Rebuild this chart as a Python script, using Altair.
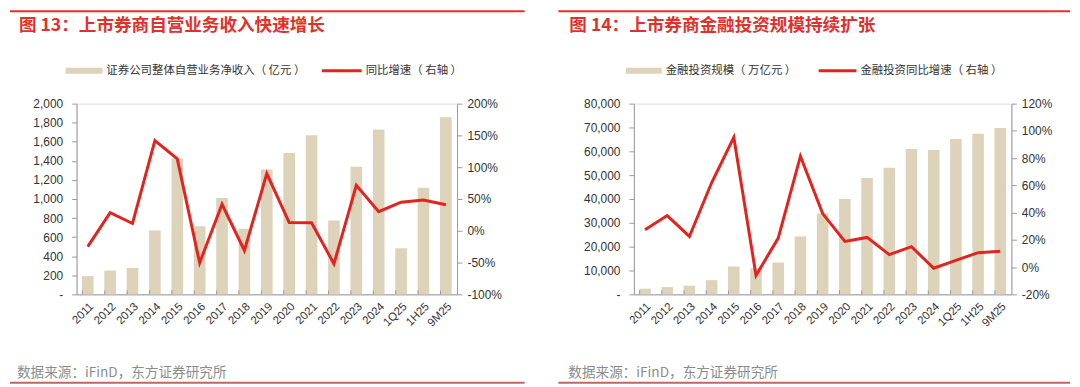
import altair as alt
import pandas as pd

cats = ["2011", "2012", "2013", "2014", "2015", "2016", "2017", "2018", "2019",
        "2020", "2021", "2022", "2023", "2024", "1Q25", "1H25", "9M25"]

# Left chart: 证券公司整体自营业务净收入（亿元） and 同比增速（%）
prop_income = [191, 250, 278, 670, 1424, 715, 1010, 688, 1309, 1483, 1667, 774,
               1337, 1729, 483, 1118, 1858]
prop_growth = [-25, 28.6, 11.5, 141.7, 113, -50.5, 41.7, -31, 90, 13, 12.5, -52,
               71.4, 30, 45, 48.5, 41]

# Right chart: 金融投资规模（万亿元） and 同比增速（%）
inv_scale = [2361, 3056, 3611, 5972, 11667, 10972, 13333, 24306, 33889, 40000,
             48750, 53056, 60972, 60556, 65139, 67361, 69722]
inv_growth = [27.4, 37.8, 22.5, 61.9, 95.2, -6.1, 21.3, 81.4, 39.3, 18.9, 21.8,
              9.2, 15, -0.8, 5, 10.6, 11.6]

BEIGE = "#DCD3BA"
RED = "#E2231E"
TITLE_RED = "#E3302B"
AXIS_GRAY = "#9A9A9A"
LABEL = "#333333"
NUM_FONT = "Liberation Sans"
CJK_FONT = "Noto Sans CJK SC"
H = 192


def one():
    return alt.Data(values=[{"a": 1}])


def hrule(x1, x2, y, color, sw):
    return alt.Chart(one()).mark_rule(color=color, strokeWidth=sw).encode(
        x=alt.value(x1), x2=alt.value(x2), y=alt.value(y))


def label(x, y, text, size, color, weight="normal", font=CJK_FONT):
    return alt.Chart(one()).mark_text(
        align="left", baseline="middle", font=font, fontSize=size,
        color=color, fontWeight=weight).encode(
        x=alt.value(x), y=alt.value(y), text=alt.value(text))


def panel(width, bars, growth, ydom, ystep, rdom, rstep, title, leg1, leg2, d):
    df = pd.DataFrame({"cat": cats, "bar": bars, "growth": growth})
    step = width / len(cats)
    xaxis = alt.Axis(title=None, labelAngle=-45, labelAlign="right",
                     labelBaseline="top", ticks=False, labelPadding=6,
                     labelFont=NUM_FONT, labelFontSize=11.5, labelColor=LABEL,
                     domainColor=AXIS_GRAY, domainWidth=1)
    xscale = alt.Scale(paddingInner=0.48, paddingOuter=0.24)
    x = alt.X("cat:N", sort=cats, axis=xaxis, scale=xscale)

    base = alt.Chart(df)
    bar_layer = base.mark_bar(color=BEIGE).encode(
        x=x,
        y=alt.Y("bar:Q", scale=alt.Scale(domain=ydom, nice=False),
                axis=alt.Axis(title=None, values=list(range(ydom[0], ydom[1] + 1, ystep)),
                              labelExpr="datum.value == 0 ? '-' : format(datum.value, ',')",
                              grid=False, tickSize=5, labelPadding=9,
                              tickColor=AXIS_GRAY, domainColor=AXIS_GRAY,
                              labelFont=NUM_FONT, labelFontSize=12, labelColor=LABEL)),
    )
    line_layer = base.mark_line(color=RED, strokeWidth=3).encode(
        x=x,
        y=alt.Y("growth:Q", scale=alt.Scale(domain=rdom, nice=False),
                axis=alt.Axis(title=None, orient="right",
                              values=list(range(rdom[0], rdom[1] + 1, rstep)),
                              labelExpr="datum.value + '%'",
                              grid=False, tickSize=5, labelPadding=5,
                              tickColor=AXIS_GRAY, domainColor=AXIS_GRAY,
                              labelFont=NUM_FONT, labelFontSize=12, labelColor=LABEL)),
    )
    ticks = base.mark_rule(color=AXIS_GRAY, strokeWidth=1, xOffset=-0.24 * step).encode(
        x=x, y=alt.value(H - 4), y2=alt.value(H))

    decor = [
        hrule(d["rule_x1"], d["rule_x2"], -93, TITLE_RED, 2),
        label(d["title_x"], -78, title, 17.7, TITLE_RED, "bold"),
        hrule(d["b1"], d["b2"], -33, BEIGE, 6),
        label(d["b2"] + 4, -33, leg1, 11.5, LABEL),
        hrule(d["r1"], d["r2"], -33, RED, 3),
        label(d["r2"] + 4, -33, leg2, 11.5, LABEL),
        label(d["src_x"], 271, "数据来源：iFinD，东方证券研究所", 13.7, "#8C8C8C"),
        hrule(d["rule_x1"], d["rule_x2"], 281, "#C0675C", 2),
    ]
    return alt.layer(bar_layer, line_layer, ticks, *decor).resolve_scale(
        y="independent").properties(width=width, height=H)


left = panel(383, prop_income, prop_growth, [0, 2000], 200, [-100, 200], 50,
             "图 13：上市券商自营业务收入快速增长",
             "证券公司整体自营业务净收入（ 亿元 ）", "同比增速（ 右轴 ）",
             dict(rule_x1=-67, rule_x2=451, title_x=-58, b1=-11, b2=26,
                  r1=247, r2=287, src_x=-60))

right = panel(380, inv_scale, inv_growth, [0, 80000], 10000, [-20, 120], 20,
              "图 14：上市券商金融投资规模持续扩张",
              "金融投资规模（ 万亿元 ）", "金融投资同比增速（ 右轴 ）",
              dict(rule_x1=-76, rule_x2=439, title_x=-65, b1=-8, b2=28,
                   r1=186, r2=224, src_x=-66))

chart = alt.hconcat(left, right, spacing=30).properties(padding=0).configure_view(
    stroke=None).configure(background="white")

chart.save("out.html", embed_options={"renderer": "svg", "actions": False})
